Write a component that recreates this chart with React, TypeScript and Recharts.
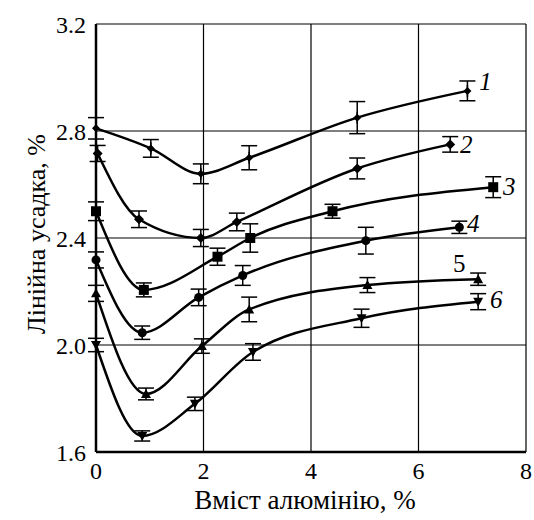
import React from "react";
import {
  LineChart,
  Line,
  XAxis,
  YAxis,
  CartesianGrid,
  ErrorBar,
  LabelList,
} from "recharts";

// вміст алюмінію, % / лінійна усадка, % / похибка
const x1 = [0, 1.02, 1.95, 2.85, 4.86, 6.91];
const y1 = [2.81, 2.735, 2.64, 2.7, 2.85, 2.95];
const e1 = [0.04, 0.033, 0.037, 0.045, 0.06, 0.037];

const x2 = [0.03, 0.8, 1.95, 2.62, 4.86, 6.59];
const y2 = [2.716, 2.47, 2.4, 2.46, 2.66, 2.75];
const e2 = [0.03, 0.031, 0.032, 0.033, 0.039, 0.029];

const x3 = [0, 0.89, 2.26, 2.87, 4.4, 7.39];
const y3 = [2.5, 2.206, 2.33, 2.4, 2.5, 2.59];
const e3 = [0.035, 0.026, 0.032, 0.053, 0.026, 0.039];

const x4 = [0, 0.86, 1.91, 2.73, 5.02, 6.76];
const y4 = [2.318, 2.046, 2.178, 2.26, 2.39, 2.44];
const e4 = [0.03, 0.025, 0.031, 0.037, 0.05, 0.023];

const x5 = [0, 0.93, 1.97, 2.85, 5.05, 7.11];
const y5 = [2.193, 1.817, 1.996, 2.133, 2.224, 2.246];
const e5 = [0.03, 0.022, 0.027, 0.046, 0.028, 0.023];

const x6 = [0, 0.86, 1.84, 2.92, 4.94, 7.11];
const y6 = [2.0, 1.66, 1.78, 1.974, 2.1, 2.162];
const e6 = [0.025, 0.019, 0.025, 0.031, 0.034, 0.03];

const curveNames = ["1", "2", "3", "4", "5", "6"];
const xTicks = [0, 2, 4, 6, 8];
const yTicks = [1.6, 2.0, 2.4, 2.8, 3.2];

const build = (xs: number[], ys: number[], es: number[]) =>
  xs.map((x, i) => ({ x, y: ys[i], err: es[i] }));

const FONT = "Liberation Serif, Tinos, Times New Roman, serif";

const Marker = ({ cx, cy, shape }: any) => {
  if (cx == null || cy == null) return null;
  switch (shape) {
    case "plus":
      return (
        <g>
          <path d={`M${cx - 4},${cy} L${cx},${cy - 4} L${cx + 4},${cy} L${cx},${cy + 4} Z`} fill="#000" />
          <line x1={cx} y1={cy - 6} x2={cx} y2={cy + 6} stroke="#000" strokeWidth={1.5} />
        </g>
      );
    case "diamond":
      return <path d={`M${cx - 5},${cy} L${cx},${cy - 5} L${cx + 5},${cy} L${cx},${cy + 5} Z`} fill="#000" />;
    case "square":
      return <rect x={cx - 5} y={cy - 5} width={10} height={10} fill="#000" />;
    case "circle":
      return <circle cx={cx} cy={cy} r={4.5} fill="#000" />;
    case "up":
      return <path d={`M${cx - 5},${cy + 4} L${cx + 5},${cy + 4} L${cx},${cy - 5} Z`} fill="#000" />;
    default:
      return <path d={`M${cx - 5},${cy - 4} L${cx + 5},${cy - 4} L${cx},${cy + 5} Z`} fill="#000" />;
  }
};

const series = [
  { data: build(x1, y1, e1), shape: "plus", dx: 18, dy: -9, italic: true },
  { data: build(x2, y2, e2), shape: "diamond", dx: 16, dy: 0, italic: true },
  { data: build(x3, y3, e3), shape: "square", dx: 16, dy: -1, italic: true },
  { data: build(x4, y4, e4), shape: "circle", dx: 14, dy: -4, italic: true },
  { data: build(x5, y5, e5), shape: "up", dx: -19, dy: -16, italic: false },
  { data: build(x6, y6, e6), shape: "down", dx: 18, dy: -2, italic: true },
];

export default function App() {
  return (
    <div style={{ position: "absolute", left: 0, top: 0, background: "#fff", fontFamily: FONT }}>
      <LineChart
        width={534}
        height={520}
        margin={{ top: 24, right: 8, left: 0, bottom: 0 }}
        style={{ fontFamily: FONT }}
      >
        <CartesianGrid stroke="#000" strokeWidth={1.2} />
        <XAxis
          type="number"
          dataKey="x"
          domain={[0, 8]}
          ticks={xTicks}
          tickLine={false}
          tickMargin={4}
          axisLine={{ stroke: "#000", strokeWidth: 2.5 }}
          tick={{ fill: "#000", fontSize: 24, fontFamily: FONT }}
          height={68}
          label={{
            content: () => (
              <text x={305} y={509} textAnchor="middle" fontSize={27} fontFamily={FONT} fill="#000">
                Вміст алюмінію, %
              </text>
            ),
          }}
        />
        <YAxis
          type="number"
          domain={[1.6, 3.2]}
          ticks={yTicks}
          tickFormatter={(v: number) => v.toFixed(1)}
          tickLine={false}
          tickMargin={4}
          width={96}
          axisLine={{ stroke: "#000", strokeWidth: 2.5 }}
          tick={{ fill: "#000", fontSize: 24, fontFamily: FONT }}
          label={{
            content: () => (
              <text
                x={36}
                y={234}
                textAnchor="middle"
                dominantBaseline="central"
                transform="rotate(-90 36 234)"
                fontSize={26}
                fontFamily={FONT}
                fill="#000"
              >
                Лінійна усадка, %
              </text>
            ),
          }}
        />
        {series.map((s, i) => (
          <Line
            key={i}
            data={s.data}
            dataKey="y"
            type="monotone"
            stroke="#000"
            strokeWidth={2.5}
            dot={(p: any) => <Marker key={p.index} cx={p.cx} cy={p.cy} shape={s.shape} />}
            activeDot={false}
            isAnimationActive={false}
          >
            <ErrorBar dataKey="err" direction="y" width={8} stroke="#000" strokeWidth={1.5} />
            <LabelList
              dataKey="y"
              content={(p: any) =>
                p.index === s.data.length - 1 ? (
                  <text
                    x={p.x + s.dx}
                    y={p.y + s.dy}
                    dominantBaseline="central"
                    textAnchor="middle"
                    fontSize={25}
                    fontStyle={s.italic ? "italic" : "normal"}
                    fontFamily={FONT}
                    fill="#000"
                  >
                    {curveNames[i]}
                  </text>
                ) : null
              }
            />
          </Line>
        ))}
      </LineChart>
    </div>
  );
}
